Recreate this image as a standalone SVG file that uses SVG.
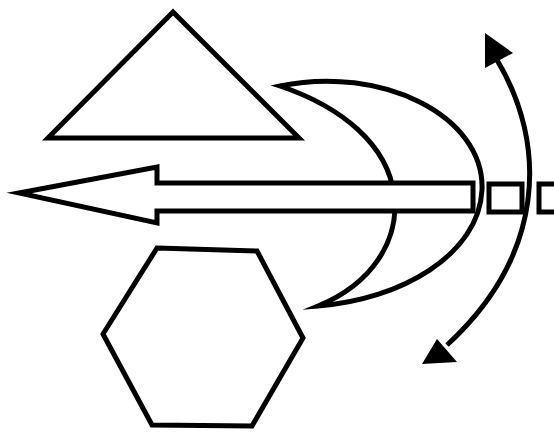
<svg xmlns="http://www.w3.org/2000/svg" width="554" height="433" viewBox="0 0 554 433">
<style>
.s{fill:#fff;stroke:#000;stroke-width:5;stroke-linejoin:miter;stroke-miterlimit:20}
.l{fill:none;stroke:#000;stroke-width:5}
.h{fill:#000;stroke:none}
</style>
<rect width="554" height="433" fill="#fff"/>
<polygon class="s" points="173,12 48,138 299,138"/>
<polygon class="s" points="157,248 257,251 303,338 252,426 152,425 103,334"/>
<path class="s" d="M280 86 C380 65 485 115 482 190 C479 255 400 300 318 306 C372 284 400 240 394 195 C388 145 342 107 280 86 Z"/>
<polygon class="s" points="19,193 157,167 157,183 473,183 473,211 157,211 157,223"/>
<rect class="s" x="489" y="184" width="33" height="28"/>
<rect class="s" x="539" y="184" width="30" height="28"/>
<path class="l" d="M497 60 C548 145 545 255 447 345"/>
<polygon class="h" points="485,33 485,68 513,53"/>
<polygon class="h" points="422,364 437,339 457,362"/>
</svg>
